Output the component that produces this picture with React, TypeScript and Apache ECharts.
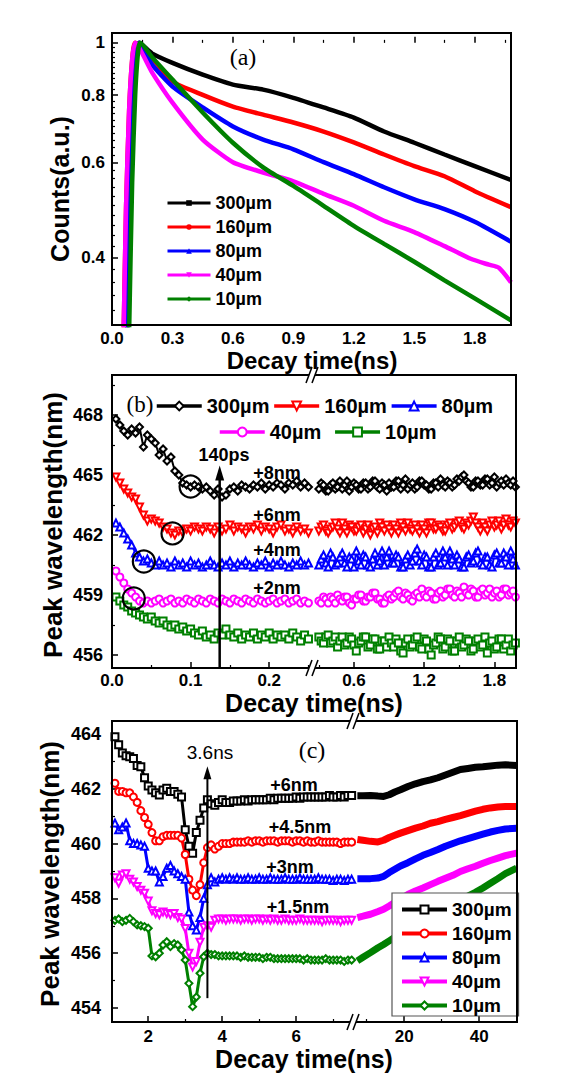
import React, { useEffect, useRef } from "react";
import * as echarts from "echarts";

const SANS = "'Liberation Sans', Arial, Helvetica, sans-serif";
const SERIF = "'Liberation Serif', 'Times New Roman', serif";

// ---------- Panel (a): normalized decay counts ----------
const SAMPLES = ["300µm", "160µm", "80µm", "40µm", "10µm"];
const COLORS = ["#000000", "#ff0000", "#0000ff", "#ff00ff", "#008000"];

const a300 = [[0.075,0.28],[0.09,0.5],[0.105,0.75],[0.12,0.93],[0.135,1.0],[0.2,0.955],[0.3,0.918],[0.45,0.873],[0.6,0.837],[0.75,0.819],[0.9,0.791],[1.05,0.759],[1.2,0.727],[1.35,0.685],[1.5,0.653],[1.65,0.621],[1.8,0.591],[1.98,0.557]];
const a160 = [[0.057,0.28],[0.07,0.5],[0.085,0.75],[0.1,0.93],[0.115,1.0],[0.2,0.935],[0.3,0.848],[0.45,0.801],[0.6,0.762],[0.75,0.736],[0.9,0.712],[1.05,0.685],[1.2,0.654],[1.35,0.621],[1.5,0.591],[1.65,0.566],[1.8,0.531],[1.98,0.496]];
const a80 = [[0.075,0.28],[0.09,0.5],[0.105,0.75],[0.12,0.93],[0.135,1.0],[0.2,0.91],[0.3,0.83],[0.45,0.759],[0.6,0.70],[0.75,0.662],[0.9,0.635],[1.05,0.601],[1.2,0.571],[1.35,0.54],[1.5,0.513],[1.65,0.492],[1.8,0.466],[1.98,0.428]];
const a40 = [[0.057,0.28],[0.07,0.5],[0.085,0.75],[0.1,0.93],[0.115,1.0],[0.2,0.88],[0.3,0.775],[0.45,0.662],[0.6,0.601],[0.75,0.575],[0.9,0.554],[1.05,0.525],[1.2,0.499],[1.35,0.468],[1.5,0.446],[1.65,0.42],[1.78,0.398],[1.87,0.388],[1.92,0.383],[1.98,0.36]];
const a10 = [[0.084,0.28],[0.1,0.55],[0.115,0.8],[0.13,0.97],[0.14,1.0],[0.2,0.94],[0.3,0.855],[0.45,0.743],[0.6,0.653],[0.75,0.588],[0.9,0.543],[1.05,0.499],[1.2,0.458],[1.35,0.424],[1.5,0.393],[1.65,0.363],[1.8,0.336],[1.98,0.306]];

const aXTicks = [0, 0.3, 0.6, 0.9, 1.2, 1.5, 1.8];
const aXMinor = [0.15, 0.45, 0.75, 1.05, 1.35, 1.65, 1.95];
const aYTicks = [0.4, 0.6, 0.8, 1];

// ---------- Panel (b): peak wavelength, short times ----------
const bLeftT = [0.005,0.01,0.015,0.02,0.025,0.03,0.035,0.04,0.045,0.05,0.055,0.06,0.065,0.07,0.075,0.08,0.085,0.09,0.095,0.1,0.105,0.11,0.115,0.12,0.125,0.13,0.135,0.14,0.145,0.15,0.155,0.16,0.165,0.17,0.175,0.18,0.185,0.19,0.195,0.2,0.205,0.21,0.215,0.22,0.225,0.23,0.235,0.24,0.245,0.25];
const bRightT = [0.30,0.32,0.34,0.36,0.38,0.40,0.42,0.44,0.46,0.48, 0.50,0.52,0.54,0.56,0.58,0.60,0.62,0.64,0.66,0.68, 0.70,0.72,0.74,0.76,0.78,0.80,0.82,0.84,0.86,0.88, 0.90,0.92,0.94,0.96,0.98,1.00,1.02,1.04,1.06,1.08, 1.10,1.12,1.14,1.16,1.18,1.20,1.22,1.24,1.26,1.28, 1.30,1.32,1.34,1.36,1.38,1.40,1.42,1.44,1.46,1.48, 1.50,1.52,1.54,1.56,1.58,1.60,1.62,1.64,1.66,1.68, 1.70,1.72,1.74,1.76,1.78,1.80,1.82,1.84,1.86,1.88, 1.90,1.92,1.94,1.96,1.98];

const bL300 = [467.8,467.5,467.2,467.0,467.3,467.1,467.4,466.4,467.0,466.8, 466.6,466.0,466.3,465.7,465.9,465.2,465.0,464.6,464.5,464.4, 464.5,464.4,464.3,464.4,464.2,464.0,464.3,463.9,464.0,464.3, 464.4,464.2,464.5,464.4,464.3,464.5,464.4,464.6,464.3,464.5, 464.4,464.6,464.5,464.3,464.6,464.5,464.7,464.4,464.6,464.4];
const bL160 = [464.9,464.6,464.3,464.1,463.9,463.8,463.4,463.0,462.7,462.8, 462.7,462.6,462.4,462.3,462.1,462.0,462.2,462.1,462.3,462.2, 462.4,462.3,462.2,462.4,462.3,462.1,462.4,462.2,462.3,462.5, 462.2,462.4,462.3,462.1,462.4,462.3,462.5,462.2,462.4,462.3, 462.1,462.4,462.5,462.2,462.3,462.1,462.4,462.2,462.3,462.1];
const bL80 = [462.6,462.4,462.1,461.8,461.5,461.1,460.9,460.7,460.8,460.6, 460.5,460.7,460.5,460.6,460.4,460.7,460.5,460.6,460.4,460.7, 460.5,460.6,460.4,460.5,460.7,460.5,460.4,460.6,460.5,460.7, 460.4,460.6,460.5,460.7,460.5,460.4,460.6,460.5,460.7,460.4, 460.6,460.5,460.7,460.5,460.4,460.6,460.5,460.7,460.5,460.6];
const bL40 = [460.2,459.9,459.6,459.3,459.1,458.9,458.7,458.6,458.7,458.6, 458.7,458.8,458.6,458.7,458.8,458.6,458.7,458.6,458.8,458.7, 458.6,458.8,458.7,458.6,458.8,458.7,458.6,458.8,458.7,458.6, 458.8,458.7,458.6,458.8,458.7,458.6,458.8,458.7,458.6,458.7, 458.8,458.6,458.7,458.8,458.6,458.7,458.8,458.6,458.7,458.6];
const bL10 = [458.9,458.7,458.5,458.4,458.2,458.1,458.0,457.9,457.8,457.9, 457.7,457.6,457.7,457.5,457.4,457.5,457.3,457.4,457.2,457.3, 457.1,457.0,457.2,456.9,457.0,456.8,457.1,457.0,457.3,457.0, 456.9,457.1,456.8,457.0,456.9,457.1,456.8,457.0,456.9,457.1, 456.8,457.0,456.9,457.0,456.8,457.1,456.9,456.7,457.0,456.8];

const bR300 = [464.3,464.6,464.5,464.2,464.2,464.5,464.6,464.3,464.4,464.7, 464.3,464.5,464.7,464.2,464.4,464.6,464.5,464.3,464.3,464.6, 464.6,464.3,464.4,464.7,464.7,464.4,464.3,464.6,464.5,464.2, 464.6,464.4,464.4,464.7,464.7,464.3,464.5,464.8,464.3,464.5, 464.6,464.3,464.4,464.7,464.7,464.5,464.5,464.3,464.3,464.6, 464.6,464.4,464.8,464.5,464.4,464.7,464.6,464.4,464.5,464.8, 464.7,464.9,465.0,464.7,464.6,464.4,464.4,464.7,464.7,464.5, 464.5,464.8,464.8,464.5,464.6,464.9,464.4,464.6,464.7,464.5, 464.8,464.6,464.5,464.7,464.4];
const bR160 = [462.2,462.4,462.5,462.2,462.1,462.3,462.4,462.6,462.3,462.1, 462.6,462.3,462.1,462.5,462.4,462.2,462.2,462.4,462.5,462.1, 462.3,462.5,462.0,462.3,462.4,462.1,462.6,462.4,462.2,462.5, 462.3,462.1,462.5,462.3,462.1,462.6,462.4,462.2,462.6,462.3, 462.2,462.5,462.3,462.1,462.5,462.3,462.1,462.6,462.6,462.3, 462.3,462.5,462.4,462.2,462.2,462.5,462.6,462.3,462.4,462.6, 462.7,462.4,462.3,462.6,462.5,462.7,462.9,462.6,462.4,462.2, 462.6,462.4,462.2,462.5,462.7,462.4,462.5,462.7,462.3,462.5, 462.8,462.5,462.4,462.7,462.6];
const bR80 = [460.5,460.8,461.0,460.6,460.4,461.1,460.9,460.5,460.6,460.9, 461.1,460.6,460.4,460.9,460.8,460.4,461.2,460.7,460.5,461.0, 460.9,460.5,460.4,460.8,461.1,460.5,460.7,461.2,460.5,460.9, 461.2,460.6,460.6,461.0,460.9,460.4,460.4,460.8,461.0,460.5, 460.7,461.1,461.3,460.7,460.5,461.0,460.9,460.4,460.4,460.9, 461.1,460.5,460.6,461.2,460.9,460.5,461.2,460.8,460.5,461.0, 460.8,460.4,460.4,460.9,461.0,460.6,460.7,461.1,461.2,460.6, 460.5,460.9,460.9,460.5,460.4,461.0,461.1,460.6,460.6,461.1, 460.9,460.5,461.2,460.8,460.5];
const bR40 = [458.7,458.6,458.9,458.8,458.6,458.9,458.8,458.6,459.0,458.8, 458.7,458.9,458.9,458.6,458.5,458.8,458.8,459.0,459.0,458.7, 458.7,458.9,458.9,459.1,459.1,458.8,458.8,458.6,458.6,458.9, 459.0,458.8,458.9,459.1,459.2,458.9,458.8,459.1,459.0,458.8, 458.7,459.0,459.1,458.9,459.3,459.0,458.9,459.2,459.1,458.8, 458.8,459.1,459.2,458.9,459.0,459.3,459.3,459.0,458.9,459.2, 459.1,458.9,459.4,459.1,459.0,459.3,459.2,458.9,458.9,459.2, 459.3,459.0,459.1,459.3,458.9,459.1,459.2,458.9,459.0,459.3, 459.3,459.0,459.1,459.2,458.9];
const bR10 = [456.9,456.7,456.6,456.9,457.0,456.6,456.7,456.9,456.4,456.7, 456.9,456.5,456.6,456.9,456.8,456.5,456.2,456.6,456.7,456.9, 456.9,456.4,456.5,456.8,456.8,456.3,456.3,456.7,456.7,456.4, 456.9,456.6,456.4,456.8,456.6,456.2,456.1,456.6,456.8,456.4, 456.5,456.8,456.9,456.4,456.3,456.8,456.7,456.3,456.0,456.5, 456.6,456.9,456.8,456.3,456.4,456.8,456.7,456.2,456.2,456.7, 456.9,456.4,456.5,456.8,456.7,456.2,456.3,456.7,456.8,456.4, 456.5,456.9,456.1,456.6,456.7,456.3,456.4,456.8,456.8,456.3, 456.5,456.8,456.2,456.5,456.6];

const bCircles = [[0.1, 464.42], [0.077, 462.08], [0.0405, 460.67], [0.0277, 458.83]];
const bArrowT = 0.137;
const bArrowTop = 465.1;
const bShifts = ["+8nm", "+6nm", "+4nm", "+2nm"];

const bLeftXTicks = [0, 0.1, 0.2];
const bLeftXMinor = [0.05, 0.15, 0.25];
const bRightXTicks = [0.6, 1.2, 1.8];
const bRightXMinor = [0.3, 0.9, 1.5];
const bYTicks = [456, 459, 462, 465, 468];
const bYMinor = [457.5, 460.5, 463.5, 466.5, 469.5];

// ---------- Panel (c): peak wavelength, long times ----------
const cLeftT = [1.1,1.2,1.3,1.4,1.5,1.6,1.7,1.8,1.9,2.0, 2.1,2.2,2.3,2.4,2.5,2.6,2.7,2.8,2.9,3.0, 3.1,3.2,3.3,3.4,3.5,3.6,3.7,3.8,3.9,4.0, 4.1,4.2,4.3,4.4,4.5,4.6,4.7,4.8,4.9,5.0, 5.1,5.2,5.3,5.4,5.5,5.6,5.7,5.8,5.9,6.0, 6.1,6.2,6.3,6.4,6.5,6.6,6.7,6.8,6.9,7.0, 7.1,7.2,7.3,7.4,7.5];
const cRightT = [7.5,9,11,13,14.5,16,17.5,19,21,23,25,27,29,31,33,35,37,39,41,43,45,47,50];

const cL300 = [463.9,463.6,463.3,463.2,463.17,463.1,462.85,462.8,462.4,462.1, 461.95,461.85,461.77,461.95,462.02,461.9,461.9,461.8,461.7,460.5, 459.9,459.65,460.4,460.85,461.3,461.6,461.45,461.4,461.5,461.6, 461.5,461.5,461.55,461.55,461.55,461.6,461.55,461.6,461.6,461.6, 461.6,461.6,461.65,461.6,461.65,461.65,461.65,461.65,461.65,461.7, 461.65,461.7,461.7,461.7,461.7,461.7,461.7,461.7,461.75,461.7, 461.7,461.75,461.7,461.75,461.75];
const cL160 = [462.2,461.9,461.9,461.85,461.85,461.7,461.5,461.2,460.95,460.7, 460.4,460.1,460.1,460.25,460.3,460.3,460.3,460.3,460.2,459.6, 458.7,458.3,458.1,458.5,459.3,459.85,459.95,459.8,459.9,460.0, 460.0,460.0,460.05,460.05,460.05,460.05,460.1,460.05,460.1,460.1, 460.05,460.1,460.1,460.1,460.05,460.1,460.1,460.1,460.05,460.1, 460.1,460.05,460.1,460.05,460.05,460.1,460.05,460.05,460.05,460.05, 460.05,460.0,460.05,460.05,460.05];
const cL80 = [460.75,460.5,460.6,460.75,460.1,460.0,460.0,459.95,459.9,459.1, 459.0,459.0,458.6,458.8,459.1,459.2,459.0,458.9,458.8,458.7, 457.5,457.0,456.85,457.3,458.0,458.5,458.75,458.6,458.7,458.75, 458.7,458.75,458.7,458.75,458.7,458.7,458.75,458.7,458.7,458.75, 458.7,458.7,458.75,458.7,458.7,458.7,458.75,458.7,458.7,458.7, 458.75,458.7,458.7,458.7,458.7,458.75,458.7,458.7,458.7,458.65, 458.7,458.7,458.65,458.7,458.7];
const cL40 = [458.75,458.55,458.85,458.9,458.7,458.6,458.43,458.3,458.19,457.9, 457.55,457.45,457.4,457.5,457.45,457.4,457.45,457.3,457.25,456.9, 456.0,455.5,455.7,456.4,456.95,457.0,456.95,457.2,457.25,457.25, 457.2,457.25,457.25,457.25,457.2,457.25,457.25,457.2,457.25,457.25, 457.2,457.25,457.2,457.25,457.2,457.2,457.25,457.2,457.2,457.2, 457.25,457.2,457.2,457.2,457.2,457.2,457.15,457.2,457.2,457.2, 457.2,457.15,457.2,457.2,457.2];
const cL10 = [457.2,457.25,457.15,457.2,457.27,457.15,457.03,457.0,456.97,456.91, 455.9,455.87,456.0,456.3,456.42,456.24,456.35,456.3,456.12,455.75, 454.9,454.05,454.4,455.27,455.87,456.0,455.95,455.95,455.9,455.9, 455.9,455.9,455.9,455.9,455.85,455.9,455.85,455.85,455.85,455.85, 455.8,455.85,455.85,455.8,455.8,455.8,455.8,455.8,455.8,455.8, 455.8,455.75,455.8,455.75,455.75,455.75,455.75,455.8,455.75,455.75, 455.75,455.75,455.7,455.75,455.75];

const cR300 = [461.74,461.74,461.75,461.73,461.72,461.78,461.88,461.96,462.08,462.18,462.26,462.32,462.40,462.50,462.60,462.70,462.74,462.78,462.80,462.83,462.86,462.87,462.85];
const cR160 = [460.15,460.12,460.08,460.06,460.12,460.22,460.3,460.38,460.47,460.56,460.64,460.74,460.8,460.88,460.95,461.02,461.1,461.18,461.25,461.3,461.33,461.35,461.35];
const cR80 = [458.72,458.72,458.72,458.74,458.8,458.94,459.06,459.18,459.3,459.44,459.57,459.67,459.78,459.9,460.0,460.1,460.18,460.26,460.34,460.42,460.48,460.53,460.56];
const cR40 = [457.3,457.35,457.42,457.52,457.6,457.72,457.85,457.97,458.14,458.27,458.38,458.5,458.62,458.73,458.84,458.98,459.08,459.17,459.28,459.38,459.47,459.56,459.65];
const cR10 = [455.72,455.85,456.02,456.2,456.32,456.45,456.58,456.72,456.88,457.05,457.22,457.38,457.54,457.68,457.82,457.95,458.08,458.22,458.38,458.55,458.72,458.9,459.1];

const cArrowT = 3.6;
const cArrowBottom = 454.36;
const cArrowTop = 462.58;
const cShifts = ["+6nm", "+4.5nm", "+3nm", "+1.5nm"];

const cLeftXTicks = [2, 4, 6];
const cLeftXMinor = [3, 5, 7];
const cRightXTicks = [20, 40];
const cRightXMinor = [10, 30];
const cYTicks = [454, 456, 458, 460, 462, 464];
const cYMinor = [455, 457, 459, 461, 463];

// ---------- helpers ----------
const zip = (ts: number[], vs: number[]) => ts.map((t, i) => [t, vs[i]]);

function mainAxis(gridIndex: number, min: number, max: number, majors: number[], fmt: (v: number) => string, margin: number, fontSize: number, position: string) {
  return {
    type: "value", gridIndex, min, max, position,
    axisLine: { show: false }, splitLine: { show: false },
    axisTick: { show: true, inside: true, length: 6, customValues: majors, lineStyle: { color: "#000", width: 1.5 } },
    axisLabel: { show: true, customValues: majors, formatter: fmt, margin, color: "#000", fontFamily: SANS, fontWeight: "bold", fontSize },
  };
}
function minorAxis(gridIndex: number, min: number, max: number, minors: number[], position: string) {
  return {
    type: "value", gridIndex, min, max, position,
    axisLine: { show: false }, splitLine: { show: false },
    axisTick: { show: true, inside: true, length: 3, customValues: minors, lineStyle: { color: "#000", width: 1.2 } },
    axisLabel: { show: false },
  };
}
function hiddenAxis(gridIndex: number, min: number, max: number) {
  return { type: "value", gridIndex, min, max, show: false };
}

const txt = (text: string, x: number, y: number, fontSize: number, opts: any = {}) => ({
  type: "text", x, y, rotation: opts.rotation || 0, z: 20,
  style: {
    text, fill: "#000", fontSize, fontFamily: opts.family || SANS,
    fontWeight: opts.weight || "bold",
    textAlign: "center", textVerticalAlign: "middle", align: "center", verticalAlign: "middle",
  },
});

const breakMark = (x: number, y: number) => [
  { type: "polygon", z: 21, shape: { points: [[x - 5, y + 5], [x - 1, y - 5], [x + 5, y - 5], [x + 1, y + 5]] }, style: { fill: "#fff", stroke: null } },
  { type: "line", z: 22, shape: { x1: x - 6, y1: y + 8, x2: x, y2: y - 8 }, style: { stroke: "#000", lineWidth: 1.5 } },
  { type: "line", z: 22, shape: { x1: x, y1: y + 8, x2: x + 6, y2: y - 8 }, style: { stroke: "#000", lineWidth: 1.5 } },
];

function arrowSeries(xAxisIndex: number, yAxisIndex: number, t: number, bottom: number, top: number, width: number, head: number[]) {
  return [
    {
      type: "line", xAxisIndex, yAxisIndex, data: [[t, bottom], [t, top]], showSymbol: false, symbol: "none",
      silent: true, z: 7, clip: false,
      lineStyle: { color: "#000", width }, itemStyle: { color: "#000" }, emphasis: { disabled: true },
    },
    {
      type: "scatter", xAxisIndex, yAxisIndex, data: [[t, top]], symbol: "triangle", symbolSize: head,
      silent: true, z: 8, itemStyle: { color: "#000", opacity: 1 }, emphasis: { disabled: true },
    },
  ];
}

function buildOption() {
  const yMinA = Math.log10(0.3);
  const yMaxA = Math.log10(1.043);
  const aMinorVals: number[] = [];
  for (let k = 32; k <= 98; k += 2) if (k !== 40 && k !== 60 && k !== 80) aMinorVals.push(Math.log10(k / 100));

  const f1 = (v: number) => v.toFixed(1);
  const f0 = (v: number) => String(Math.round(v));
  const fLog = (v: number) => { const x = Math.pow(10, v); return x > 0.95 ? "1" : x.toFixed(1); };

  const grids = [
    { left: 112, top: 33, width: 399, height: 292 },
    { left: 112, top: 375, width: 199, height: 293 },
    { left: 313, top: 375, width: 203, height: 293 },
    { left: 112, top: 721, width: 240, height: 301 },
    { left: 354, top: 721, width: 163, height: 301 },
  ].map((g) => ({ ...g, show: false, outerBoundsMode: "none", containLabel: false }));

  const B = { yMin: 455.35, yMax: 470, lMin: 0, lMax: 0.2532, rMin: 0.25, rMax: 1.985 };
  const C = { yMin: 453.49, yMax: 464.47, lMin: 1.02, lMax: 7.51, rMin: 6.6, rMax: 50.1 };

  const xAxis = [
    mainAxis(0, 0, 1.98, aXTicks, f1, 5, 17, "bottom"),
    minorAxis(0, 0, 1.98, aXMinor, "bottom"),
    mainAxis(1, B.lMin, B.lMax, bLeftXTicks, f1, 4, 17, "bottom"),
    minorAxis(1, B.lMin, B.lMax, bLeftXMinor, "bottom"),
    mainAxis(2, B.rMin, B.rMax, bRightXTicks, f1, 4, 17, "bottom"),
    minorAxis(2, B.rMin, B.rMax, bRightXMinor, "bottom"),
    mainAxis(3, C.lMin, C.lMax, cLeftXTicks, f0, 6, 17, "bottom"),
    minorAxis(3, C.lMin, C.lMax, cLeftXMinor, "bottom"),
    mainAxis(4, C.rMin, C.rMax, cRightXTicks, f0, 6, 17, "bottom"),
    minorAxis(4, C.rMin, C.rMax, cRightXMinor, "bottom"),
  ];
  const yAxis = [
    mainAxis(0, yMinA, yMaxA, aYTicks.map((v) => Math.log10(v)), fLog, 7, 17, "left"),
    minorAxis(0, yMinA, yMaxA, aMinorVals, "left"),
    mainAxis(1, B.yMin, B.yMax, bYTicks, f0, 9, 18, "left"),
    minorAxis(1, B.yMin, B.yMax, bYMinor, "left"),
    hiddenAxis(2, B.yMin, B.yMax),
    mainAxis(3, C.yMin, C.yMax, cYTicks, f0, 11, 18, "left"),
    minorAxis(3, C.yMin, C.yMax, cYMinor, "left"),
    hiddenAxis(4, C.yMin, C.yMax),
  ];

  const series: any[] = [];

  // panel (a)
  const aData = [a300, a160, a80, a40, a10];
  const aSymbols = ["rect", "circle", "triangle", "triangle", "diamond"];
  aData.forEach((d, i) => {
    series.push({
      type: "line", name: "a:" + SAMPLES[i], xAxisIndex: 0, yAxisIndex: 0,
      data: d.map(([t, v]) => [t, Math.log10(v)]),
      showSymbol: false, symbol: aSymbols[i], symbolSize: 5, symbolRotate: i === 3 ? 180 : 0,
      smooth: 0.2, clip: true,
      lineStyle: { width: 4.5, color: COLORS[i] }, itemStyle: { color: COLORS[i] },
      emphasis: { disabled: true },
    });
  });

  // panel (b)
  const bLeft = [bL300, bL160, bL80, bL40, bL10];
  const bRight = [bR300, bR160, bR80, bR40, bR10];
  const bSymbols = ["emptyDiamond", "emptyTriangle", "emptyTriangle", "emptyCircle", "emptyRect"];
  const bRot = [0, 180, 0, 0, 0];
  for (let i = 0; i < 5; i++) {
    const common = {
      type: "line", name: "b:" + SAMPLES[i], symbol: bSymbols[i], symbolRotate: bRot[i], symbolSize: 7,
      showSymbol: true, clip: true,
      lineStyle: { width: 2, color: COLORS[i] }, itemStyle: { color: COLORS[i], borderWidth: 1.3 },
      emphasis: { disabled: true },
    };
    series.push({ ...common, xAxisIndex: 2, yAxisIndex: 2, data: zip(bLeftT, bLeft[i]) });
    series.push({ ...common, xAxisIndex: 4, yAxisIndex: 4, data: zip(bRightT, bRight[i]) });
  }
  series.push({
    type: "scatter", xAxisIndex: 2, yAxisIndex: 2, data: bCircles, symbol: "circle", symbolSize: 22, z: 6,
    itemStyle: { color: "rgba(0,0,0,0)", borderColor: "#000", borderWidth: 2.2, opacity: 1 }, silent: true,
    emphasis: { disabled: true },
  });
  series.push(...arrowSeries(2, 2, bArrowT, B.yMin, bArrowTop, 2.5, [9, 15]));

  // panel (c)
  const cLeft = [cL300, cL160, cL80, cL40, cL10];
  const cRight = [cR300, cR160, cR80, cR40, cR10];
  const cSymbols = ["emptyRect", "emptyCircle", "emptyTriangle", "emptyTriangle", "emptyDiamond"];
  const cRot = [0, 0, 0, 180, 0];
  for (let i = 0; i < 5; i++) {
    series.push({
      type: "line", name: "c:" + SAMPLES[i], symbol: cSymbols[i], symbolRotate: cRot[i], symbolSize: 7,
      showSymbol: true, clip: true, xAxisIndex: 6, yAxisIndex: 5, data: zip(cLeftT, cLeft[i]),
      lineStyle: { width: 3, color: COLORS[i] }, itemStyle: { color: COLORS[i], borderWidth: 1.3 },
      emphasis: { disabled: true },
    });
    series.push({
      type: "line", name: "c:" + SAMPLES[i], symbol: "none", showSymbol: false, clip: true,
      xAxisIndex: 8, yAxisIndex: 7, data: zip(cRightT, cRight[i]),
      lineStyle: { width: 7, color: COLORS[i] }, itemStyle: { color: COLORS[i] },
      emphasis: { disabled: true },
    });
  }
  series.push(...arrowSeries(6, 5, cArrowT, cArrowBottom, cArrowTop, 2, [8, 13]));

  const legendText = (size: number) => ({ fontSize: size, fontWeight: "bold", fontFamily: SANS, color: "#000", lineHeight: size });
  const strip = (n: string) => n.slice(2);
  const legend = [
    {
      data: SAMPLES.map((s) => "a:" + s), formatter: strip, orient: "vertical", left: 166, top: 194,
      itemWidth: 43, itemHeight: 7, itemGap: 6, padding: 0, textStyle: legendText(18), selectedMode: false,
      lineStyle: { width: 3 },
    },
    {
      data: SAMPLES.slice(0, 3).map((s) => "b:" + s), formatter: strip, orient: "horizontal", left: 155, top: 396,
      itemWidth: 45, itemHeight: 11, itemGap: 3, padding: 0, textStyle: legendText(20), selectedMode: false,
      lineStyle: { width: 3.5 },
    },
    {
      data: SAMPLES.slice(3).map((s) => "b:" + s), formatter: strip, orient: "horizontal", left: 218, top: 422,
      itemWidth: 45, itemHeight: 11, itemGap: 12, padding: 0, textStyle: legendText(20), selectedMode: false,
      lineStyle: { width: 3.5 },
    },
    {
      data: SAMPLES.map((s) => "c:" + s), formatter: strip, orient: "vertical", left: 392, top: 893,
      itemWidth: 45, itemHeight: 10, itemGap: 5, padding: [7, 7, 1, 8],
      borderColor: "#555", borderWidth: 1.2, backgroundColor: "#fff",
      textStyle: legendText(19), selectedMode: false, lineStyle: { width: 4 },
    },
  ];

  const frameStyle = { fill: "none", stroke: "#000", lineWidth: 2 };
  const elements: any[] = [
    { type: "rect", z: 15, shape: { x: 112, y: 33, width: 399, height: 292 }, style: frameStyle },
    { type: "rect", z: 15, shape: { x: 112, y: 375, width: 404, height: 293 }, style: frameStyle },
    { type: "rect", z: 15, shape: { x: 112, y: 721, width: 405, height: 301 }, style: frameStyle },
    ...breakMark(312, 375), ...breakMark(312, 668),
    ...breakMark(353, 721), ...breakMark(353, 1022),
    txt("(a)", 243, 57, 24, { family: SERIF, weight: "normal" }),
    txt("Counts(a.u.)", 60, 189, 25, { rotation: Math.PI / 2 }),
    txt("Decay time(ns)", 312, 360, 24),
    txt("(b)", 140, 404, 23, { family: SERIF, weight: "normal" }),
    txt("Peak wavelength(nm)", 53, 525, 26, { rotation: Math.PI / 2 }),
    txt("Decay time(ns)", 314, 703, 25),
    txt("140ps", 224, 455, 18),
    txt(bShifts[0], 277, 473, 18),
    txt(bShifts[1], 277, 515, 18),
    txt(bShifts[2], 277, 550, 18),
    txt(bShifts[3], 277, 588, 18),
    txt("(c)", 312, 750, 24, { family: SERIF, weight: "normal" }),
    txt("Peak wavelength(nm)", 50, 874, 26, { rotation: Math.PI / 2 }),
    txt("Decay time(ns)", 304, 1059, 25),
    txt("3.6ns", 210, 752, 19, { weight: "normal" }),
    txt(cShifts[0], 294, 785, 18),
    txt(cShifts[1], 300, 827, 18),
    txt(cShifts[2], 290, 867, 18),
    txt(cShifts[3], 298, 907, 18),
  ];

  return {
    animation: false,
    backgroundColor: "#ffffff",
    grid: grids,
    xAxis,
    yAxis,
    legend,
    series,
    graphic: { elements },
  };
}

export default function App() {
  const ref = useRef<HTMLDivElement>(null);
  useEffect(() => {
    if (!ref.current) return;
    const chart = echarts.init(ref.current, null, { renderer: "svg", width: 587, height: 1091 });
    chart.setOption(buildOption() as any);
    return () => chart.dispose();
  }, []);
  return (
    <div
      ref={ref}
      style={{ position: "absolute", left: 0, top: 0, width: 587, height: 1091, background: "#fff" }}
    />
  );
}
